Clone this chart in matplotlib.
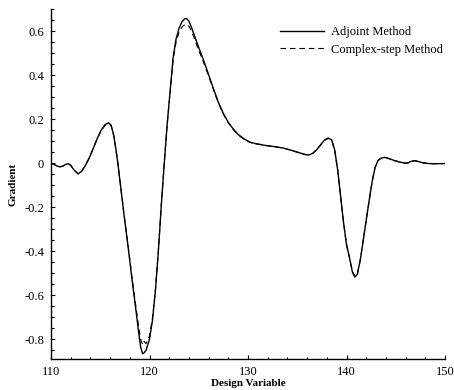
import matplotlib
matplotlib.use("Agg")
import matplotlib.pyplot as plt
from matplotlib.ticker import MultipleLocator

# design variable index
design_var = [
    110.0, 110.3, 110.6, 110.9, 111.2, 111.5, 111.75, 112.0, 112.35, 112.75,
    113.1, 113.5, 113.9, 114.3, 114.7, 115.1, 115.5, 115.85, 116.1, 116.35,
    116.6, 116.8, 117.0, 117.4, 117.8, 118.2, 118.6, 118.9, 119.1, 119.3,
    119.45, 119.65, 120.0, 120.3, 120.6, 120.9, 121.2, 121.5, 121.8, 122.1,
    122.4, 122.7, 123.0, 123.3, 123.55, 123.75, 124.0, 124.3, 124.6, 125.0,
    125.4, 125.8, 126.4, 127.0, 127.5, 128.0, 128.5, 129.0, 129.6, 130.2,
    130.8, 131.8, 132.8, 133.6, 134.4, 135.2, 135.8, 136.2, 136.6, 137.0,
    137.4, 137.8, 138.15, 138.5, 138.8, 139.1, 139.4, 139.7, 140.0, 140.3,
    140.6, 140.85, 141.1, 141.4, 141.7, 142.0, 142.3, 142.6, 142.9, 143.2,
    143.5, 143.9, 144.4, 144.9, 145.4, 145.9, 146.2, 146.5, 146.9, 147.3,
    147.8, 148.3, 149.0, 150.0,
]

# gradient from the adjoint solver
grad_adjoint = [
    0.0, -0.006, -0.013, -0.017, -0.014, -0.006, -0.003, -0.010, -0.032, -0.049,
    -0.038, -0.010, 0.025, 0.068, 0.112, 0.150, 0.175, 0.183, 0.172, 0.130,
    0.060, -0.005, -0.080, -0.230, -0.370, -0.520, -0.660, -0.770, -0.835, -0.866,
    -0.862, -0.850, -0.800, -0.715, -0.580, -0.400, -0.190, 0.000, 0.180, 0.330,
    0.480, 0.565, 0.612, 0.642, 0.655, 0.657, 0.645, 0.612, 0.574, 0.525,
    0.478, 0.428, 0.350, 0.275, 0.225, 0.185, 0.155, 0.130, 0.110, 0.095,
    0.088, 0.080, 0.074, 0.068, 0.058, 0.047, 0.039, 0.037, 0.045, 0.062,
    0.085, 0.106, 0.114, 0.105, 0.060, -0.030, -0.150, -0.270, -0.370, -0.430,
    -0.495, -0.518, -0.505, -0.440, -0.350, -0.260, -0.170, -0.085, -0.020, 0.012,
    0.022, 0.026, 0.019, 0.011, 0.005, 0.000, 0.000, 0.007, 0.011, 0.007,
    0.001, -0.002, -0.003, -0.002,
]

# gradient from complex-step differentiation
grad_complex = [
    0.0, -0.006, -0.013, -0.017, -0.014, -0.006, -0.003, -0.010, -0.032, -0.049,
    -0.038, -0.010, 0.025, 0.068, 0.112, 0.148, 0.172, 0.180, 0.170, 0.128,
    0.060, -0.005, -0.080, -0.230, -0.365, -0.510, -0.645, -0.745, -0.800, -0.825,
    -0.810, -0.820, -0.785, -0.705, -0.575, -0.398, -0.190, 0.000, 0.178, 0.325,
    0.470, 0.550, 0.594, 0.618, 0.628, 0.630, 0.622, 0.595, 0.560, 0.512,
    0.468, 0.420, 0.345, 0.272, 0.222, 0.183, 0.153, 0.128, 0.108, 0.094,
    0.088, 0.080, 0.074, 0.068, 0.058, 0.047, 0.039, 0.037, 0.045, 0.062,
    0.084, 0.104, 0.112, 0.103, 0.059, -0.030, -0.150, -0.270, -0.370, -0.428,
    -0.493, -0.515, -0.503, -0.440, -0.350, -0.260, -0.170, -0.085, -0.020, 0.012,
    0.022, 0.026, 0.019, 0.011, 0.005, 0.000, 0.000, 0.007, 0.011, 0.007,
    0.001, -0.002, -0.003, -0.002,
]

plt.rcParams['font.family'] = ['Liberation Serif', 'DejaVu Serif']

fig = plt.figure(figsize=(4.54, 3.90), dpi=100)
ax = fig.add_axes([51 / 454, 1 - 359 / 390, 394 / 454, 350 / 390])

ax.plot(design_var, grad_adjoint, color='black', lw=1.0,
        solid_joinstyle='round', label='Adjoint Method')
ax.plot(design_var, grad_complex, color='black', lw=0.8, dashes=(5, 3.5),
        label='Complex-step Method')

ax.set_xlim(110, 150)
ax.set_ylim(-0.89, 0.70)

ax.xaxis.set_major_locator(MultipleLocator(10))
ax.xaxis.set_minor_locator(MultipleLocator(2))
ax.yaxis.set_major_locator(MultipleLocator(0.2))
ax.yaxis.set_minor_locator(MultipleLocator(0.05))
ax.yaxis.set_major_formatter(plt.FuncFormatter(
    lambda v, p: '0' if abs(v) < 1e-9 else f'{v:.1f}'))

for side in ('top', 'right'):
    ax.spines[side].set_visible(False)
for side in ('left', 'bottom'):
    ax.spines[side].set_linewidth(1.0)

ax.tick_params(which='both', direction='in', labelsize=9, width=0.8)
ax.tick_params(which='major', length=3, pad=5)
ax.tick_params(which='minor', length=1.8)

ax.set_xlabel('Design Variable', fontsize=8, fontweight='bold', labelpad=1)
ax.set_ylabel('Gradient', fontsize=8, fontweight='bold', labelpad=5)

ax.legend(loc='upper left', bbox_to_anchor=(280 / 454, 1 - 26 / 390),
          bbox_transform=fig.transFigure, frameon=False, fontsize=9,
          handlelength=3.5, handletextpad=0.6, labelspacing=0.45,
          borderpad=0, borderaxespad=0)

fig.savefig('out.png', dpi=100)
